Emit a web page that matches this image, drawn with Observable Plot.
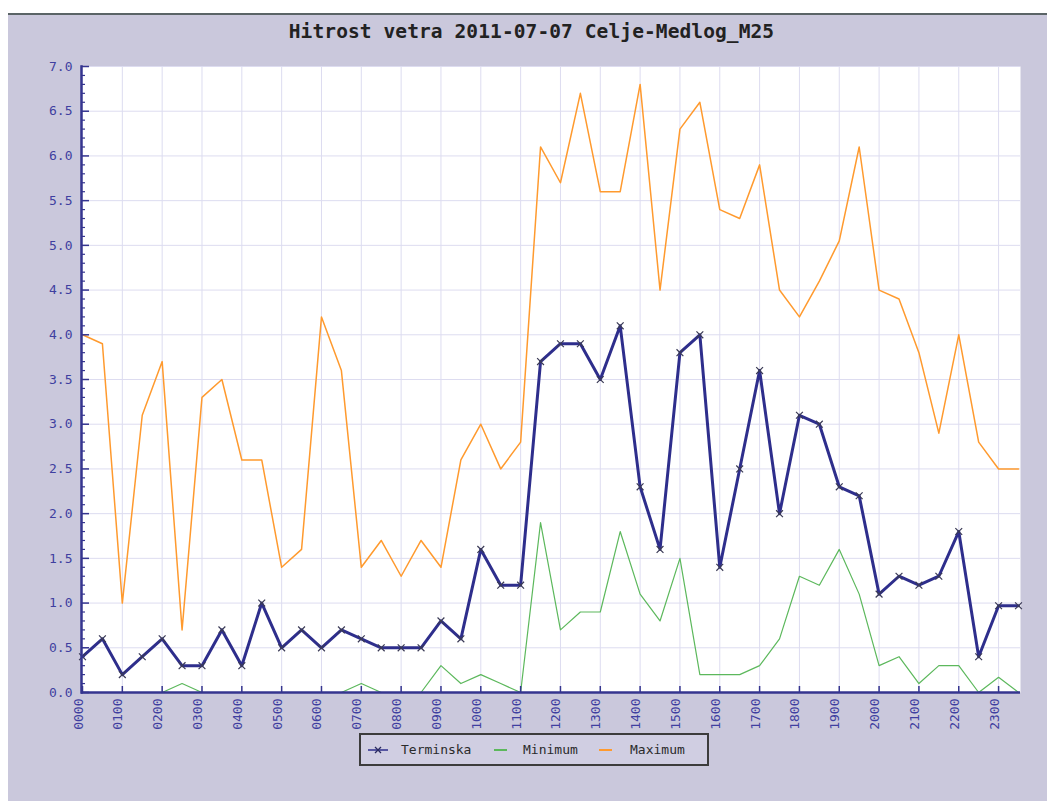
<!DOCTYPE html>
<html>
<head>
<meta charset="utf-8">
<script src="https://cdn.jsdelivr.net/npm/d3@7"></script>
<script src="https://cdn.jsdelivr.net/npm/@observablehq/plot@0.6"></script>
<style>
  html, body { margin: 0; padding: 0; background: #ffffff; }
  #wrap { position: relative; width: 1047px; height: 801px; overflow: hidden; }
  #panel { position: absolute; left: 8px; top: 13px; width: 1039px; height: 788px;
           background: #cac8dc; border-top: 2px solid #5a6466; box-sizing: border-box; }
  #chart { position: absolute; left: 0; top: 0; }
  #title { position: absolute; left: 0; top: 22px; width: 1063px; text-align: center;
           font-family: "DejaVu Sans Mono", "Liberation Mono", monospace; font-weight: bold;
           font-size: 19.5px; line-height: 20px; color: #222222; letter-spacing: 0.1px; }
  #legend { position: absolute; left: 359px; top: 733px; width: 350px; height: 33px;
            box-sizing: border-box; border: 2px solid #3c3c3c; background: #d0cee2;
            font-family: "DejaVu Sans Mono", monospace; font-size: 13px; color: #2a2a2a; }
  .li { position: absolute; top: 0; height: 29px; line-height: 29px; white-space: nowrap; }
  .li svg { position: absolute; top: 9px; }
</style>
</head>
<body>
<div id="wrap">
  <div id="panel"></div>
  <div id="chart"></div>
  <div id="title">Hitrost vetra 2011-07-07 Celje-Medlog_M25</div>
  <div id="legend"></div>
</div>
<script>
const times = ["0000","0030","0100","0130","0200","0230","0300","0330","0400","0430","0500","0530",
  "0600","0630","0700","0730","0800","0830","0900","0930","1000","1030","1100","1130",
  "1200","1230","1300","1330","1400","1430","1500","1530","1600","1630","1700","1730",
  "1800","1830","1900","1930","2000","2030","2100","2130","2200","2230","2300","2330"];

const terminska = [0.4,0.6,0.2,0.4,0.6,0.3,0.3,0.7,0.3,1.0,0.5,0.7,
  0.5,0.7,0.6,0.5,0.5,0.5,0.8,0.6,1.6,1.2,1.2,3.7,
  3.9,3.9,3.5,4.1,2.3,1.6,3.8,4.0,1.4,2.5,3.6,2.0,
  3.1,3.0,2.3,2.2,1.1,1.3,1.2,1.3,1.8,0.4,0.97,0.97];

const minimum = [0.0,0.0,0.0,0.0,0.0,0.1,0.0,0.0,0.0,0.0,0.0,0.0,
  0.0,0.0,0.1,0.0,0.0,0.0,0.3,0.1,0.2,0.1,0.0,1.9,
  0.7,0.9,0.9,1.8,1.1,0.8,1.5,0.2,0.2,0.2,0.3,0.6,
  1.3,1.2,1.6,1.1,0.3,0.4,0.1,0.3,0.3,0.0,0.17,0.0];

const maximum = [4.0,3.9,1.0,3.1,3.7,0.7,3.3,3.5,2.6,2.6,1.4,1.6,
  4.2,3.6,1.4,1.7,1.3,1.7,1.4,2.6,3.0,2.5,2.8,6.1,
  5.7,6.7,5.6,5.6,6.8,4.5,6.3,6.6,5.4,5.3,5.9,4.5,
  4.2,4.6,5.05,6.1,4.5,4.4,3.8,2.9,4.0,2.8,2.5,2.5];

const yMajor = [0,0.5,1,1.5,2,2.5,3,3.5,4,4.5,5,5.5,6,6.5,7];
const yMinor = [0.1,0.2,0.3,0.4,0.6,0.7,0.8,0.9,1.1,1.2,1.3,1.4,1.6,1.7,1.8,1.9,2.1,2.2,2.3,2.4,
  2.6,2.7,2.8,2.9,3.1,3.2,3.3,3.4,3.6,3.7,3.8,3.9,4.1,4.2,4.3,4.4,4.6,4.7,4.8,4.9,
  5.1,5.2,5.3,5.4,5.6,5.7,5.8,5.9,6.1,6.2,6.3,6.4,6.6,6.7,6.8,6.9];

const seriesNames = ["Terminska","Minimum","Maximum"];
const colors = {Terminska: "#2e2e8c", Minimum: "#5cb85c", Maximum: "#ff9a2e"};
const navy = "#35358f";
const labelColor = "#3f3fa0";

const idx = times.map((t, i) => i);
const hourIdx = idx.filter(i => times[i].endsWith("00"));
const rows = (vals) => vals.map((v, i) => ({i, v}));

const plot = Plot.plot({
  width: 1047,
  height: 801,
  marginLeft: 81,
  marginRight: 27,
  marginTop: 66,
  marginBottom: 109,
  style: {background: "transparent", fontFamily: "DejaVu Sans Mono, monospace", fontSize: "13px"},
  x: {type: "linear", domain: [0, 47], range: [82, 1018], axis: null},
  y: {domain: [0, 7], range: [692, 66], axis: null},
  marks: [
    Plot.frame({fill: "white", stroke: "none"}),
    Plot.ruleY(yMajor.slice(1), {stroke: "#dddcf0", strokeWidth: 1}),
    Plot.ruleX(hourIdx.slice(1), {stroke: "#dddcf0", strokeWidth: 1}),
    Plot.line(rows(maximum), {x: "i", y: "v", stroke: colors.Maximum, strokeWidth: 1.5}),
    Plot.line(rows(minimum), {x: "i", y: "v", stroke: colors.Minimum, strokeWidth: 1.2}),
    Plot.line(rows(terminska), {x: "i", y: "v", stroke: colors.Terminska, strokeWidth: 3}),
    Plot.dot(rows(terminska), {x: "i", y: "v", symbol: "times", r: 3.2, stroke: "#3a3a55", strokeWidth: 1.2}),
    Plot.axisY({anchor: "left", ticks: yMajor, tickSize: -8, tickPadding: 17, stroke: navy, strokeWidth: 1.5,
      tickFormat: d => d.toFixed(1), fill: labelColor, fontSize: 13, label: null}),
    Plot.axisY({anchor: "left", ticks: yMinor, tickSize: -4, tickPadding: 0, stroke: navy, strokeWidth: 1.2,
      tickFormat: () => "", label: null}),
    Plot.axisX({anchor: "bottom", ticks: hourIdx, tickSize: -6, tickPadding: 0, stroke: navy, strokeWidth: 1.5,
      tickFormat: () => "", label: null}),
    Plot.text(hourIdx, {x: d => d, text: d => times[d], frameAnchor: "bottom", dy: 6, rotate: -90,
      textAnchor: "end", fill: labelColor, fontSize: 13}),
    Plot.ruleY([0], {stroke: navy, strokeWidth: 2.5}),
    Plot.frame({anchor: "left", stroke: navy, strokeWidth: 2.5})
  ]
});
document.getElementById("chart").appendChild(plot);

// Legend
const legend = document.getElementById("legend");
const items = [
  {name: seriesNames[0], symX: 6, textX: 40, sym: "term"},
  {name: seriesNames[1], symX: 132, textX: 162, sym: "line"},
  {name: seriesNames[2], symX: 237, textX: 269, sym: "line"}
];
items.forEach(it => {
  const s = document.createElementNS("http://www.w3.org/2000/svg", "svg");
  s.setAttribute("width", it.sym === "term" ? 22 : 16);
  s.setAttribute("height", 12);
  s.style.left = it.symX + "px";
  const c = colors[it.name];
  if (it.sym === "term") {
    s.innerHTML = `<line x1="1" y1="6" x2="21" y2="6" stroke="${c}" stroke-width="1.5"/>
      <path d="M8,3 L14,9 M14,3 L8,9" stroke="#2a2a60" stroke-width="1.3"/>`;
  } else {
    s.innerHTML = `<line x1="1" y1="6" x2="14" y2="6" stroke="${c}" stroke-width="2"/>`;
  }
  const wrap = document.createElement("div");
  wrap.className = "li";
  wrap.style.left = "0px";
  wrap.appendChild(s);
  legend.appendChild(wrap);
  const t = document.createElement("div");
  t.className = "li";
  t.style.left = it.textX + "px";
  t.textContent = it.name;
  legend.appendChild(t);
});
</script>
</body>
</html>
